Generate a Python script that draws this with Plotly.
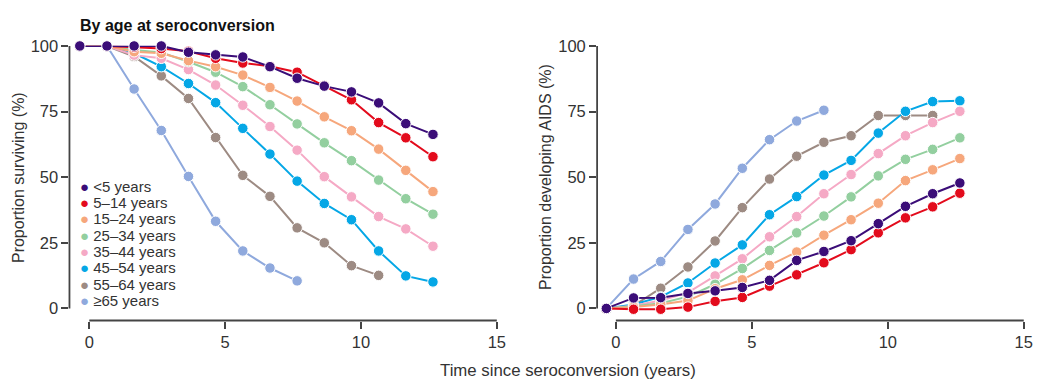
import plotly.graph_objects as go

# ---------------- data ----------------
time_points = [-0.35, 0.65, 1.65, 2.65, 3.65, 4.65, 5.65, 6.65, 7.65, 8.65, 9.65, 10.65, 11.65, 12.65]

age_groups = ["<5 years", "5–14 years", "15–24 years", "25–34 years",
              "35–44 years", "45–54 years", "55–64 years", "≥65 years"]

surv_lt5 = [100, 100, 100, 100, 97.6, 96.6, 95.8, 92.1, 87.7, 84.7, 82.5, 78.3, 70.4, 66.3]
surv_5_14 = [100, 100, 99.5, 99, 98, 95.3, 93.5, 92.3, 90.0, 84.9, 79.5, 70.8, 65.0, 57.8]
surv_15_24 = [100, 100, 97.8, 97.2, 94.4, 92.1, 88.9, 84.2, 79.0, 73.0, 67.7, 60.7, 52.6, 44.5]
surv_25_34 = [100, 100, 98.5, 97.5, 94.0, 90.0, 84.5, 77.6, 70.3, 63.1, 56.3, 48.9, 41.8, 35.9]
surv_35_44 = [100, 100, 96.5, 95.3, 91.0, 85.1, 77.4, 69.3, 60.3, 50.2, 42.5, 35.0, 30.3, 23.7]
surv_45_54 = [100, 100, 97.2, 92.1, 85.7, 78.4, 68.6, 58.8, 48.5, 40.0, 33.8, 21.9, 12.4, 10.1]
surv_55_64 = [100, 100, 96.0, 88.6, 80.0, 65.1, 50.7, 42.7, 30.7, 25.0, 16.3, 12.6]
surv_65 = [100, 100, 83.6, 67.8, 50.3, 33.2, 21.9, 15.4, 10.5]

aids_lt5 = [0, 4.0, 4.1, 5.7, 6.7, 8.0, 10.7, 18.3, 21.7, 25.8, 32.3, 38.9, 43.7, 47.8]
aids_5_14 = [0, -0.3, -0.3, 0.5, 2.7, 4.2, 8.5, 12.8, 17.4, 22.4, 28.8, 34.5, 38.7, 43.9]
aids_15_24 = [0, 0.5, 1.5, 3.0, 7.5, 10.9, 16.4, 21.5, 27.9, 33.8, 40.1, 48.7, 52.8, 57.1]
aids_25_34 = [0, 0.8, 2.0, 4.5, 9.2, 15.2, 22.1, 28.8, 35.2, 42.5, 50.5, 56.8, 60.6, 65.0]
aids_35_44 = [0, 1.0, 3.0, 6.0, 12.4, 18.9, 27.3, 35.0, 43.7, 51.0, 59.0, 65.8, 70.8, 75.1]
aids_45_54 = [0, 1.5, 4.4, 9.7, 17.3, 24.2, 35.7, 42.6, 50.8, 56.4, 66.8, 75.1, 78.8, 79.1]
aids_55_64 = [0, 1.0, 7.7, 15.8, 25.7, 38.4, 49.3, 58.0, 63.3, 65.8, 73.5, 73.5, 73.5]
aids_65 = [0, 11.2, 17.9, 30.1, 39.8, 53.4, 64.3, 71.4, 75.5]

x_ticks = [0, 5, 10, 15]
y_ticks = [0, 25, 50, 75, 100]

colors = ["#3b0d78", "#e30b1c", "#f6a77c", "#93cf9f",
          "#f5a9c5", "#05a7e6", "#9d8b83", "#8fa9dd"]

survival = [surv_lt5, surv_5_14, surv_15_24, surv_25_34,
            surv_35_44, surv_45_54, surv_55_64, surv_65]
aids = [aids_lt5, aids_5_14, aids_15_24, aids_25_34,
        aids_35_44, aids_45_54, aids_55_64, aids_65]

FONT = "Liberation Sans, Arial, sans-serif"
AXC = "#444444"
TXT = "#333333"

fig = go.Figure()

# draw oldest group first so that youngest sits on top
for i in reversed(range(len(age_groups))):
    for vals, xa, ya in ((survival[i], "x", "y"), (aids[i], "x2", "y2")):
        fig.add_trace(go.Scatter(
            x=time_points[:len(vals)], y=vals, xaxis=xa, yaxis=ya,
            mode="lines+markers", name=age_groups[i], showlegend=False,
            cliponaxis=False,
            line=dict(color=colors[i], width=2),
            marker=dict(color=colors[i], size=10.5, line=dict(color="white", width=1)),
        ))

axis_common = dict(showgrid=False, zeroline=False, showline=False,
                   ticks="outside", ticklen=7, tickwidth=1.6, tickcolor=AXC,
                   tickfont=dict(family=FONT, size=16.5, color=TXT))

W, H = 1048, 383
fig.update_layout(
    width=W, height=H, margin=dict(l=0, r=0, t=0, b=0),
    plot_bgcolor="white", paper_bgcolor="white", showlegend=False,
    font=dict(family=FONT, color=TXT),
    xaxis=dict(domain=[70 / W, 502 / W], range=[-0.73, 15.05], tickvals=x_ticks,
               anchor="y", **axis_common),
    yaxis=dict(domain=[64 / H, (H - 37.7) / H], range=[-4.6, 100.05], tickvals=y_ticks,
               anchor="x", **axis_common),
    xaxis2=dict(domain=[601.7 / W, 1033 / W], range=[-0.69, 15.05], tickvals=x_ticks,
                anchor="y2", **axis_common),
    yaxis2=dict(domain=[64 / H, (H - 37.7) / H], range=[-4.6, 100.05], tickvals=y_ticks,
                anchor="x2", **axis_common),
)

# detached axis lines
shapes = []
for xa, ya in (("x", "y"), ("x2", "y2")):
    shapes.append(dict(type="line", xref=f"{xa} domain", x0=0, x1=0, yref=ya,
                       y0=y_ticks[0], y1=y_ticks[-1], line=dict(color=AXC, width=1.8)))
    shapes.append(dict(type="line", xref=xa, x0=x_ticks[0], x1=x_ticks[-1],
                       yref=f"{ya} domain", y0=0, y1=0, line=dict(color=AXC, width=1.8)))
fig.update_layout(shapes=shapes)

annotations = [
    dict(text="<b>By age at seroconversion</b>", xref="paper", yref="paper",
         x=79 / W, y=(H - 17) / H, xanchor="left", yanchor="middle", showarrow=False,
         font=dict(family=FONT, size=16, color="#111111")),
    dict(text="Proportion surviving (%)", xref="paper", yref="y", x=18 / W, y=50,
         textangle=-90, xanchor="center", yanchor="middle", showarrow=False,
         font=dict(family=FONT, size=16, color=TXT)),
    dict(text="Proportion developing AIDS (%)", xref="paper", yref="y2", x=549 / W, y=50,
         textangle=-90, xanchor="center", yanchor="middle", showarrow=False,
         font=dict(family=FONT, size=16, color=TXT)),
    dict(text="Time since seroconversion (years)", xref="paper", yref="paper",
         x=572 / W, y=(H - 370) / H, xanchor="center", yanchor="middle", showarrow=False,
         font=dict(family=FONT, size=16.8, color=TXT)),
]

# legend entries (compact, inside left panel)
for i, (label, c) in enumerate(zip(age_groups, colors)):
    safe = label.replace("<", "&lt;")
    annotations.append(dict(
        text=f'<span style="color:{c}">●</span> {safe}',
        xref="x", yref="y", x=-0.42, y=46.5 - i * 6.21,
        xanchor="left", yanchor="middle", showarrow=False,
        font=dict(family=FONT, size=15, color=TXT)))

fig.update_layout(annotations=annotations)

fig.write_html("out.html")
